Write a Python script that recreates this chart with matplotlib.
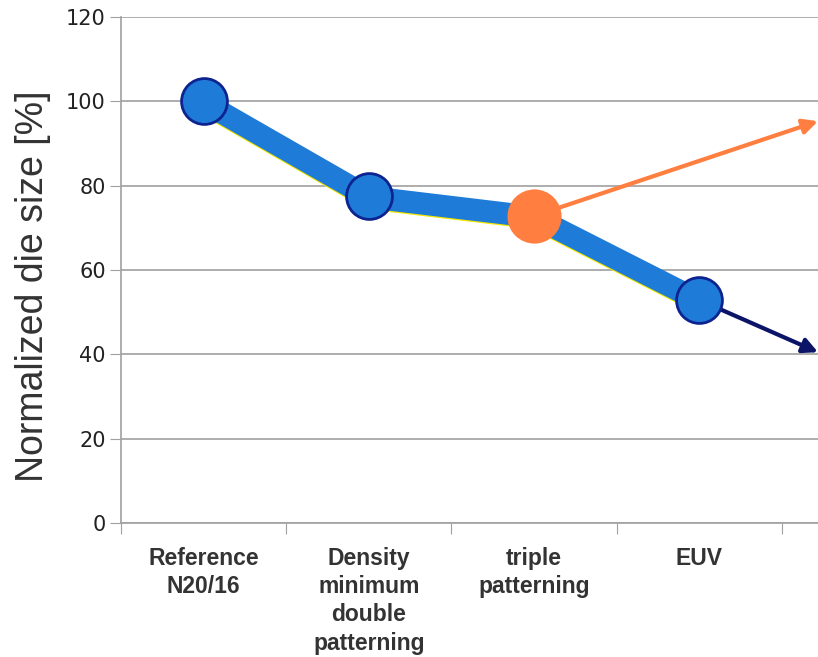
import matplotlib
matplotlib.use('Agg')
import matplotlib.pyplot as plt
import numpy as np

# data
categories = ['Reference\nN20/16', 'Density\nminimum\ndouble\npatterning',
              'triple\npatterning', 'EUV']
die_size = [100, 77.5, 72.8, 52.9]
orange_trend = [72.8, 95.3]   # from triple patterning outwards
navy_trend = [52.9, 40.5]     # from EUV outwards
trend_end_x = 3.72
yticks = [0, 20, 40, 60, 80, 100, 120]

fig = plt.figure(figsize=(8.18, 6.57), dpi=100)
ax = fig.add_axes([0.148, 0.204, 0.852, 0.770])

blue = '#1e7bd7'
x = np.arange(len(categories))

# trend arrows
ax.annotate('', xy=(trend_end_x, orange_trend[1]), xytext=(2, orange_trend[0]),
            arrowprops=dict(arrowstyle='-|>', color='#ff7e40', lw=3,
                            mutation_scale=22, shrinkA=0, shrinkB=0), zorder=2)
ax.annotate('', xy=(trend_end_x, navy_trend[1]), xytext=(3, navy_trend[0]),
            arrowprops=dict(arrowstyle='-|>', color='#0b1466', lw=3,
                            mutation_scale=22, shrinkA=0, shrinkB=0), zorder=2)

ax.plot(x, np.array(die_size) - 0.5, color='#f5e700', lw=16, solid_capstyle='butt', zorder=3)
ax.plot(x, np.array(die_size) - 0.2, color=blue, lw=16, solid_capstyle='butt', zorder=3)
ax.plot(x, die_size, 'o', ms=33, mfc=blue, mec='#0d2390', mew=2, zorder=4)
ax.plot(x[2], die_size[2], 'o', ms=39, mfc='#ff7e40', mec='none', zorder=5)

ax.set_xlim(-0.5, trend_end_x)
ax.set_ylim(0, 120)
ax.set_yticks(yticks)
ax.set_yticklabels([str(v) for v in yticks], fontsize=15, color='#222222',
                   family=['Liberation Sans Narrow', 'DejaVu Sans'])
ax.yaxis.grid(True, color='#a0a0a0', lw=1.2)
ax.set_axisbelow(True)
ax.tick_params(axis='y', length=8, color='#a0a0a0', pad=3)

ax.set_xticks(np.arange(-0.5, 4, 1))
ax.set_xticklabels([])
ax.set_xticks(x, minor=True)
ax.set_xticklabels(categories, minor=True, fontsize=16.5, fontweight='bold',
                   family='Liberation Sans', color='#333333', linespacing=1.3)
ax.tick_params(axis='x', which='major', length=8, color='#a0a0a0')
ax.tick_params(axis='x', which='minor', length=0, pad=17)

for s in ['top', 'right']:
    ax.spines[s].set_visible(False)
for s in ['left', 'bottom']:
    ax.spines[s].set_color('#a0a0a0')
    ax.spines[s].set_linewidth(1.2)

fig.text(33 / 818, 1 - 286 / 657, 'Normalized die size [%]', rotation=90,
         ha='center', va='center', fontsize=27, family='Liberation Sans',
         color='#333333')

fig.savefig('out.png', dpi=100)
